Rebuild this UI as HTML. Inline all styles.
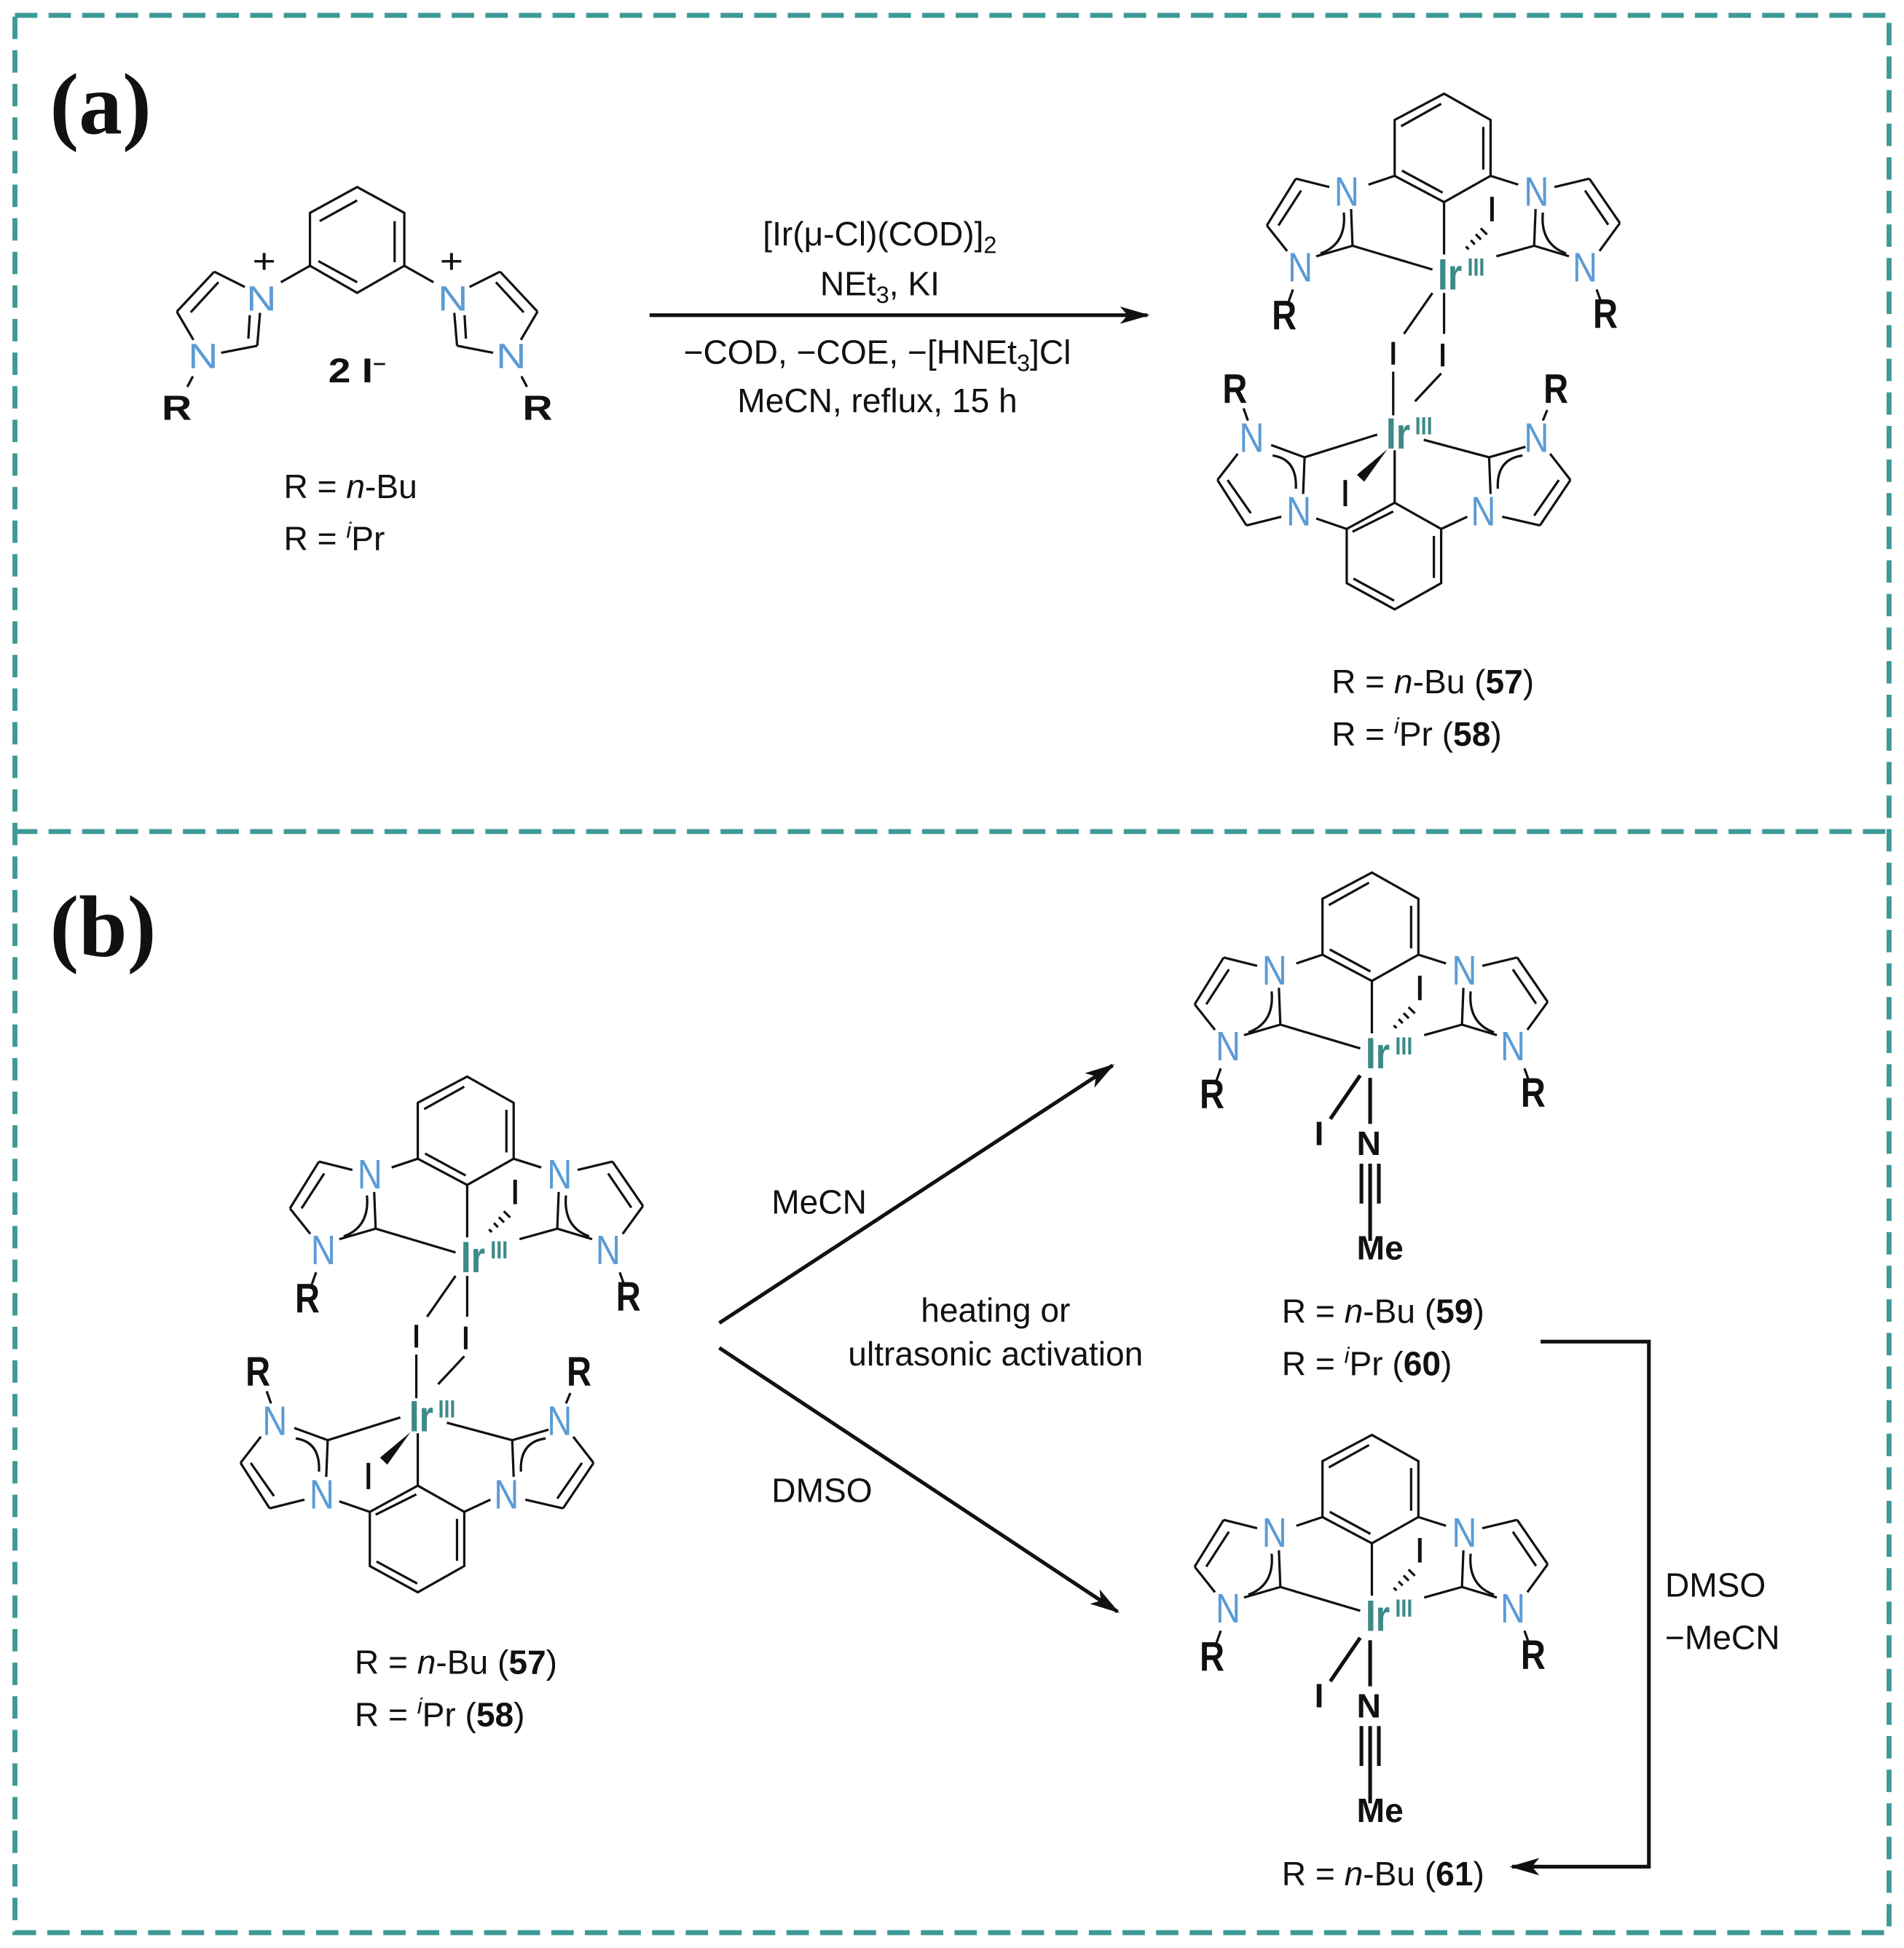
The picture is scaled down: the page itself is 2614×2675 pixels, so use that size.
<!DOCTYPE html>
<html><head><meta charset="utf-8"><style>
html,body{margin:0;padding:0;background:#fff}
svg{display:block}
.t{font-family:"Liberation Sans",sans-serif;fill:#111}
.n{font-family:"Liberation Sans",sans-serif;fill:#5b9bd5;text-anchor:middle;font-size:118px}
.r{font-family:"Liberation Sans",sans-serif;fill:#111;font-weight:bold;text-anchor:middle;font-size:118px}
.ir{font-family:"Liberation Sans",sans-serif;fill:#3d8a88;font-weight:bold;text-anchor:middle;font-size:125px}
.iii{font-family:"Liberation Sans",sans-serif;fill:#3d8a88;font-weight:bold;font-size:72px}
.lg .n,.lg .r{font-size:150px}
.b line,.b path,.b polyline{stroke:#111;stroke-width:3.2;fill:none;vector-effect:non-scaling-stroke}
.b line.ib{stroke-width:5}
.bs{stroke:#111;stroke-width:3;fill:none}
</style></head><body>
<svg width="2614" height="2675" viewBox="0 0 1530 1565" xmlns="http://www.w3.org/2000/svg">
<defs>
<marker id="ah" viewBox="0 0 24 14" refX="22" refY="7" markerWidth="24" markerHeight="14" markerUnits="userSpaceOnUse" orient="auto">
<path d="M0,0 L24,7 L0,14 L6,7 Z" fill="#111"/></marker>
</defs>
<g stroke="#3e9a96" stroke-width="4" stroke-dasharray="18,9" fill="none">
<rect x="12" y="12" width="1506" height="1541"/>
<line x1="12" y1="668" x2="1518" y2="668"/>
</g>
<text x="40" y="107" font-family="Liberation Serif,serif" font-weight="bold" font-size="70" fill="#111">(a)</text>
<text x="40" y="768" font-family="Liberation Serif,serif" font-weight="bold" font-size="70" fill="#111">(b)</text>

<!-- Ligand (a) -->
<g class="lg" transform="translate(108.6,132) scale(0.223,0.189)">
<g class="b">
<path d="M800,95 L970,205 L970,430 L800,545 L630,430 L630,205 Z"/>
<line x1="665" y1="240" x2="800" y2="152"/><line x1="935" y1="240" x2="935" y2="415"/><line x1="660" y1="410" x2="800" y2="500"/>
<line x1="630" y1="430" x2="525" y2="500"/>
<line x1="395" y1="520" x2="285" y2="455"/><line x1="285" y1="455" x2="150" y2="625"/><line x1="300" y1="500" x2="200" y2="628"/>
<line x1="150" y1="625" x2="210" y2="745"/><line x1="310" y1="800" x2="440" y2="770"/>
<line x1="440" y1="770" x2="450" y2="630"/><line x1="408" y1="740" x2="413" y2="640"/>
<line x1="208" y1="900" x2="188" y2="945"/>
<line x1="970" y1="430" x2="1075" y2="500"/>
<line x1="1205" y1="520" x2="1315" y2="455"/><line x1="1315" y1="455" x2="1450" y2="625"/><line x1="1300" y1="500" x2="1400" y2="628"/>
<line x1="1450" y1="625" x2="1390" y2="745"/><line x1="1290" y1="800" x2="1160" y2="770"/>
<line x1="1160" y1="770" x2="1150" y2="630"/><line x1="1192" y1="740" x2="1187" y2="640"/>
<line x1="1392" y1="900" x2="1412" y2="945"/>
</g>
<g font-size="145">
<text class="n" x="455" y="620">N</text><text class="t" x="465" y="460" text-anchor="middle">+</text>
<text class="n" x="245" y="865">N</text>
<text class="n" x="1145" y="620">N</text><text class="t" x="1140" y="460" text-anchor="middle">+</text>
<text class="n" x="1355" y="865">N</text>
<text class="r" x="150" y="1085">R</text><text class="r" x="1450" y="1085">R</text>
<text class="t" x="800" y="925" font-weight="bold" text-anchor="middle">2 I<tspan font-size="80" dy="-50">−</tspan></text>
</g>
</g>
<text class="t" x="228" y="400" font-size="27">R = <tspan font-style="italic">n</tspan>-Bu</text>
<text class="t" x="228" y="442" font-size="27">R = <tspan font-style="italic" font-size="18" dy="-10">i</tspan><tspan dy="10">Pr</tspan></text>

<!-- Arrow (a) -->
<line x1="522" y1="253" x2="922" y2="253" class="bs" marker-end="url(#ah)"/>
<g class="t" font-size="27" text-anchor="middle">
<text x="707" y="197">[Ir(μ-Cl)(COD)]<tspan font-size="19" dy="6">2</tspan></text>
<text x="707" y="237">NEt<tspan font-size="19" dy="6">3</tspan><tspan dy="-6">, KI</tspan></text>
<text x="705" y="292">−COD, −COE, −[HNEt<tspan font-size="19" dy="6">3</tspan><tspan dy="-6">]Cl</tspan></text>
<text x="705" y="331">MeCN, reflux, 15 h</text>
</g>

<!-- Dimer (a) -->
<g transform="translate(959.6,59.5) scale(0.2335,0.281)">
<g class="b">
<path d="M860,55 L1020,130 L1020,290 L860,365 L690,290 L690,130 Z"/>
<line x1="712" y1="148" x2="850" y2="84"/><line x1="995" y1="150" x2="995" y2="272"/><line x1="715" y1="275" x2="855" y2="338"/>
<line x1="600" y1="315" x2="690" y2="290"/>
<line x1="465" y1="322" x2="350" y2="298"/><line x1="350" y1="298" x2="250" y2="432"/><line x1="368" y1="332" x2="290" y2="432"/>
<line x1="250" y1="432" x2="320" y2="505"/><line x1="420" y1="520" x2="545" y2="490"/><line x1="545" y1="490" x2="540" y2="385"/>
<path d="M515,395 Q525,485 435,512"/>
<line x1="340" y1="615" x2="325" y2="650"/>
<line x1="545" y1="490" x2="820" y2="558"/>
<line x1="860" y1="365" x2="860" y2="515"/>
<line x1="1020" y1="290" x2="1115" y2="315"/>
<line x1="1240" y1="322" x2="1360" y2="298"/><line x1="1360" y1="298" x2="1465" y2="425"/><line x1="1345" y1="332" x2="1425" y2="430"/>
<line x1="1465" y1="425" x2="1395" y2="505"/><line x1="1290" y1="520" x2="1170" y2="490"/><line x1="1170" y1="490" x2="1175" y2="385"/>
<path d="M1200,395 Q1190,485 1280,512"/>
<line x1="1385" y1="615" x2="1400" y2="650"/>
<line x1="1170" y1="490" x2="1040" y2="520"/>
<line class="ib" x1="1025" y1="350" x2="1025" y2="420"/>
<line x1="935" y1="492" x2="945" y2="500"/><line x1="952" y1="474" x2="966" y2="486"/><line x1="969" y1="457" x2="987" y2="472"/><line x1="986" y1="440" x2="1008" y2="458"/>
<line x1="820" y1="625" x2="722" y2="742"/><line class="ib" x1="685" y1="765" x2="685" y2="830"/><line x1="685" y1="850" x2="685" y2="975"/>
<line x1="860" y1="625" x2="860" y2="742"/><line class="ib" x1="855" y1="770" x2="855" y2="835"/><line x1="850" y1="855" x2="760" y2="935"/>
<line x1="630" y1="1030" x2="380" y2="1095"/>
<line x1="170" y1="955" x2="185" y2="990"/>
<line x1="265" y1="1060" x2="380" y2="1095"/><line x1="380" y1="1095" x2="375" y2="1200"/>
<path d="M270,1090 Q355,1100 350,1185"/>
<line x1="300" y1="1265" x2="180" y2="1290"/><line x1="180" y1="1290" x2="80" y2="1160"/><line x1="195" y1="1255" x2="115" y2="1160"/>
<line x1="80" y1="1160" x2="150" y2="1085"/>
<line x1="420" y1="1270" x2="525" y2="1300"/>
<line x1="690" y1="1075" x2="690" y2="1225"/>
<path d="M690,1225 L850,1300 L850,1455 L690,1530 L525,1455 L525,1300 Z"/>
<line x1="545" y1="1308" x2="685" y2="1250"/><line x1="825" y1="1320" x2="825" y2="1440"/><line x1="548" y1="1442" x2="688" y2="1505"/>
<line x1="790" y1="1045" x2="1015" y2="1095"/>
<line x1="1015" y1="1095" x2="1140" y2="1065"/><line x1="1015" y1="1095" x2="1020" y2="1200"/>
<path d="M1130,1090 Q1040,1100 1045,1185"/>
<line x1="1215" y1="960" x2="1200" y2="990"/>
<line x1="1225" y1="1085" x2="1295" y2="1160"/><line x1="1295" y1="1160" x2="1190" y2="1290"/><line x1="1255" y1="1160" x2="1170" y2="1262"/>
<line x1="1190" y1="1290" x2="1060" y2="1265"/>
<line x1="940" y1="1265" x2="850" y2="1300"/>
<line class="ib" x1="520" y1="1160" x2="520" y2="1235"/>
</g>
<path d="M665,1072 L585,1165 L560,1145 Z" fill="#111"/>
<text class="n" x="525" y="375">N</text><text class="n" x="365" y="592">N</text>
<text class="n" x="1178" y="375">N</text><text class="n" x="1345" y="592">N</text>
<text class="r" x="310" y="730">R</text><text class="r" x="1415" y="725">R</text>
<text class="ir" x="880" y="615">Ir</text><text class="iii" x="940" y="575">III</text>
<text class="r" x="140" y="940">R</text><text class="r" x="1245" y="940">R</text>
<text class="n" x="198" y="1080">N</text><text class="n" x="360" y="1290">N</text>
<text class="n" x="1178" y="1080">N</text><text class="n" x="995" y="1290">N</text>
<text class="ir" x="702" y="1070">Ir</text><text class="iii" x="760" y="1030">III</text>
</g>
<text class="t" x="1070" y="557" font-size="27">R = <tspan font-style="italic">n</tspan>-Bu (<tspan font-weight="bold">57</tspan>)</text>
<text class="t" x="1070" y="599" font-size="27">R = <tspan font-style="italic" font-size="18" dy="-10">i</tspan><tspan dy="10">Pr (</tspan><tspan font-weight="bold">58</tspan>)</text>

<!-- Dimer (b) -->
<g transform="translate(174.6,849.5) scale(0.2335,0.281)">
<g class="b">
<path d="M860,55 L1020,130 L1020,290 L860,365 L690,290 L690,130 Z"/>
<line x1="712" y1="148" x2="850" y2="84"/><line x1="995" y1="150" x2="995" y2="272"/><line x1="715" y1="275" x2="855" y2="338"/>
<line x1="600" y1="315" x2="690" y2="290"/>
<line x1="465" y1="322" x2="350" y2="298"/><line x1="350" y1="298" x2="250" y2="432"/><line x1="368" y1="332" x2="290" y2="432"/>
<line x1="250" y1="432" x2="320" y2="505"/><line x1="420" y1="520" x2="545" y2="490"/><line x1="545" y1="490" x2="540" y2="385"/>
<path d="M515,395 Q525,485 435,512"/>
<line x1="340" y1="615" x2="325" y2="650"/>
<line x1="545" y1="490" x2="820" y2="558"/>
<line x1="860" y1="365" x2="860" y2="515"/>
<line x1="1020" y1="290" x2="1115" y2="315"/>
<line x1="1240" y1="322" x2="1360" y2="298"/><line x1="1360" y1="298" x2="1465" y2="425"/><line x1="1345" y1="332" x2="1425" y2="430"/>
<line x1="1465" y1="425" x2="1395" y2="505"/><line x1="1290" y1="520" x2="1170" y2="490"/><line x1="1170" y1="490" x2="1175" y2="385"/>
<path d="M1200,395 Q1190,485 1280,512"/>
<line x1="1385" y1="615" x2="1400" y2="650"/>
<line x1="1170" y1="490" x2="1040" y2="520"/>
<line class="ib" x1="1025" y1="350" x2="1025" y2="420"/>
<line x1="935" y1="492" x2="945" y2="500"/><line x1="952" y1="474" x2="966" y2="486"/><line x1="969" y1="457" x2="987" y2="472"/><line x1="986" y1="440" x2="1008" y2="458"/>
<line x1="820" y1="625" x2="722" y2="742"/><line class="ib" x1="685" y1="765" x2="685" y2="830"/><line x1="685" y1="850" x2="685" y2="975"/>
<line x1="860" y1="625" x2="860" y2="742"/><line class="ib" x1="855" y1="770" x2="855" y2="835"/><line x1="850" y1="855" x2="760" y2="935"/>
<line x1="630" y1="1030" x2="380" y2="1095"/>
<line x1="170" y1="955" x2="185" y2="990"/>
<line x1="265" y1="1060" x2="380" y2="1095"/><line x1="380" y1="1095" x2="375" y2="1200"/>
<path d="M270,1090 Q355,1100 350,1185"/>
<line x1="300" y1="1265" x2="180" y2="1290"/><line x1="180" y1="1290" x2="80" y2="1160"/><line x1="195" y1="1255" x2="115" y2="1160"/>
<line x1="80" y1="1160" x2="150" y2="1085"/>
<line x1="420" y1="1270" x2="525" y2="1300"/>
<line x1="690" y1="1075" x2="690" y2="1225"/>
<path d="M690,1225 L850,1300 L850,1455 L690,1530 L525,1455 L525,1300 Z"/>
<line x1="545" y1="1308" x2="685" y2="1250"/><line x1="825" y1="1320" x2="825" y2="1440"/><line x1="548" y1="1442" x2="688" y2="1505"/>
<line x1="790" y1="1045" x2="1015" y2="1095"/>
<line x1="1015" y1="1095" x2="1140" y2="1065"/><line x1="1015" y1="1095" x2="1020" y2="1200"/>
<path d="M1130,1090 Q1040,1100 1045,1185"/>
<line x1="1215" y1="960" x2="1200" y2="990"/>
<line x1="1225" y1="1085" x2="1295" y2="1160"/><line x1="1295" y1="1160" x2="1190" y2="1290"/><line x1="1255" y1="1160" x2="1170" y2="1262"/>
<line x1="1190" y1="1290" x2="1060" y2="1265"/>
<line x1="940" y1="1265" x2="850" y2="1300"/>
<line class="ib" x1="520" y1="1160" x2="520" y2="1235"/>
</g>
<path d="M665,1072 L585,1165 L560,1145 Z" fill="#111"/>
<text class="n" x="525" y="375">N</text><text class="n" x="365" y="592">N</text>
<text class="n" x="1178" y="375">N</text><text class="n" x="1345" y="592">N</text>
<text class="r" x="310" y="730">R</text><text class="r" x="1415" y="725">R</text>
<text class="ir" x="880" y="615">Ir</text><text class="iii" x="940" y="575">III</text>
<text class="r" x="140" y="940">R</text><text class="r" x="1245" y="940">R</text>
<text class="n" x="198" y="1080">N</text><text class="n" x="360" y="1290">N</text>
<text class="n" x="1178" y="1080">N</text><text class="n" x="995" y="1290">N</text>
<text class="ir" x="702" y="1070">Ir</text><text class="iii" x="760" y="1030">III</text>
</g>
<text class="t" x="285" y="1345" font-size="27">R = <tspan font-style="italic">n</tspan>-Bu (<tspan font-weight="bold">57</tspan>)</text>
<text class="t" x="285" y="1387" font-size="27">R = <tspan font-style="italic" font-size="18" dy="-10">i</tspan><tspan dy="10">Pr (</tspan><tspan font-weight="bold">58</tspan>)</text>

<!-- Arrows (b) -->
<line x1="578" y1="1063" x2="894" y2="856" class="bs" marker-end="url(#ah)"/>
<line x1="578" y1="1083" x2="898" y2="1295" class="bs" marker-end="url(#ah)"/>
<text class="t" x="620" y="975" font-size="27">MeCN</text>
<text class="t" x="620" y="1207" font-size="27">DMSO</text>
<text class="t" x="800" y="1062" font-size="27" text-anchor="middle">heating or</text>
<text class="t" x="800" y="1097" font-size="27" text-anchor="middle">ultrasonic activation</text>
<polyline points="1238,1078 1325,1078 1325,1500 1215,1500" class="bs" marker-end="url(#ah)"/>
<text class="t" x="1338" y="1283" font-size="27">DMSO</text>
<text class="t" x="1338" y="1325" font-size="27">−MeCN</text>

<!-- Monomer top (b) -->
<g transform="translate(901.6,685.5) scale(0.2335,0.281)">
<g class="b">
<path d="M860,55 L1020,130 L1020,290 L860,365 L690,290 L690,130 Z"/>
<line x1="712" y1="148" x2="850" y2="84"/><line x1="995" y1="150" x2="995" y2="272"/><line x1="715" y1="275" x2="855" y2="338"/>
<line x1="600" y1="315" x2="690" y2="290"/>
<line x1="465" y1="322" x2="350" y2="298"/><line x1="350" y1="298" x2="250" y2="432"/><line x1="368" y1="332" x2="290" y2="432"/>
<line x1="250" y1="432" x2="320" y2="505"/><line x1="420" y1="520" x2="545" y2="490"/><line x1="545" y1="490" x2="540" y2="385"/>
<path d="M515,395 Q525,485 435,512"/>
<line x1="340" y1="615" x2="325" y2="650"/>
<line x1="545" y1="490" x2="820" y2="558"/>
<line x1="860" y1="365" x2="860" y2="515"/>
<line x1="1020" y1="290" x2="1115" y2="315"/>
<line x1="1240" y1="322" x2="1360" y2="298"/><line x1="1360" y1="298" x2="1465" y2="425"/><line x1="1345" y1="332" x2="1425" y2="430"/>
<line x1="1465" y1="425" x2="1395" y2="505"/><line x1="1290" y1="520" x2="1170" y2="490"/><line x1="1170" y1="490" x2="1175" y2="385"/>
<path d="M1200,395 Q1190,485 1280,512"/>
<line x1="1385" y1="615" x2="1400" y2="650"/>
<line x1="1170" y1="490" x2="1040" y2="520"/>
<line class="ib" x1="1025" y1="350" x2="1025" y2="420"/>
<line x1="935" y1="492" x2="945" y2="500"/><line x1="952" y1="474" x2="966" y2="486"/><line x1="969" y1="457" x2="987" y2="472"/><line x1="986" y1="440" x2="1008" y2="458"/>
</g>
<text class="n" x="525" y="375">N</text><text class="n" x="365" y="592">N</text>
<text class="n" x="1178" y="375">N</text><text class="n" x="1345" y="592">N</text>
<text class="r" x="310" y="730">R</text><text class="r" x="1415" y="725">R</text>
<text class="ir" x="880" y="615">Ir</text><text class="iii" x="940" y="575">III</text>
</g>
<g class="bs"><line x1="1093" y1="864" x2="1069" y2="899"/><line x1="1101" y1="866" x2="1101" y2="903"/>
<line x1="1094" y1="935" x2="1094" y2="967"/><line x1="1101" y1="935" x2="1101" y2="997"/><line x1="1108" y1="935" x2="1108" y2="967"/></g>
<text class="t" x="1100" y="928" font-size="27" font-weight="bold" text-anchor="middle">N</text>
<text class="t" x="1060" y="920" font-size="27" font-weight="bold" text-anchor="middle">I</text>
<text class="t" x="1109" y="1012" font-size="27" font-weight="bold" text-anchor="middle">Me</text>
<text class="t" x="1030" y="1063" font-size="27">R = <tspan font-style="italic">n</tspan>-Bu (<tspan font-weight="bold">59</tspan>)</text>
<text class="t" x="1030" y="1105" font-size="27">R = <tspan font-style="italic" font-size="18" dy="-10">i</tspan><tspan dy="10">Pr (</tspan><tspan font-weight="bold">60</tspan>)</text>

<!-- Monomer bottom (b) -->
<g transform="translate(901.6,1137.5) scale(0.2335,0.281)">
<g class="b">
<path d="M860,55 L1020,130 L1020,290 L860,365 L690,290 L690,130 Z"/>
<line x1="712" y1="148" x2="850" y2="84"/><line x1="995" y1="150" x2="995" y2="272"/><line x1="715" y1="275" x2="855" y2="338"/>
<line x1="600" y1="315" x2="690" y2="290"/>
<line x1="465" y1="322" x2="350" y2="298"/><line x1="350" y1="298" x2="250" y2="432"/><line x1="368" y1="332" x2="290" y2="432"/>
<line x1="250" y1="432" x2="320" y2="505"/><line x1="420" y1="520" x2="545" y2="490"/><line x1="545" y1="490" x2="540" y2="385"/>
<path d="M515,395 Q525,485 435,512"/>
<line x1="340" y1="615" x2="325" y2="650"/>
<line x1="545" y1="490" x2="820" y2="558"/>
<line x1="860" y1="365" x2="860" y2="515"/>
<line x1="1020" y1="290" x2="1115" y2="315"/>
<line x1="1240" y1="322" x2="1360" y2="298"/><line x1="1360" y1="298" x2="1465" y2="425"/><line x1="1345" y1="332" x2="1425" y2="430"/>
<line x1="1465" y1="425" x2="1395" y2="505"/><line x1="1290" y1="520" x2="1170" y2="490"/><line x1="1170" y1="490" x2="1175" y2="385"/>
<path d="M1200,395 Q1190,485 1280,512"/>
<line x1="1385" y1="615" x2="1400" y2="650"/>
<line x1="1170" y1="490" x2="1040" y2="520"/>
<line class="ib" x1="1025" y1="350" x2="1025" y2="420"/>
<line x1="935" y1="492" x2="945" y2="500"/><line x1="952" y1="474" x2="966" y2="486"/><line x1="969" y1="457" x2="987" y2="472"/><line x1="986" y1="440" x2="1008" y2="458"/>
</g>
<text class="n" x="525" y="375">N</text><text class="n" x="365" y="592">N</text>
<text class="n" x="1178" y="375">N</text><text class="n" x="1345" y="592">N</text>
<text class="r" x="310" y="730">R</text><text class="r" x="1415" y="725">R</text>
<text class="ir" x="880" y="615">Ir</text><text class="iii" x="940" y="575">III</text>
</g>
<g class="bs"><line x1="1093" y1="1316" x2="1069" y2="1351"/><line x1="1101" y1="1318" x2="1101" y2="1355"/>
<line x1="1094" y1="1387" x2="1094" y2="1419"/><line x1="1101" y1="1387" x2="1101" y2="1449"/><line x1="1108" y1="1387" x2="1108" y2="1419"/></g>
<text class="t" x="1100" y="1380" font-size="27" font-weight="bold" text-anchor="middle">N</text>
<text class="t" x="1060" y="1372" font-size="27" font-weight="bold" text-anchor="middle">I</text>
<text class="t" x="1109" y="1464" font-size="27" font-weight="bold" text-anchor="middle">Me</text>
<text class="t" x="1030" y="1515" font-size="27">R = <tspan font-style="italic">n</tspan>-Bu (<tspan font-weight="bold">61</tspan>)</text>
</svg>
</body></html>
